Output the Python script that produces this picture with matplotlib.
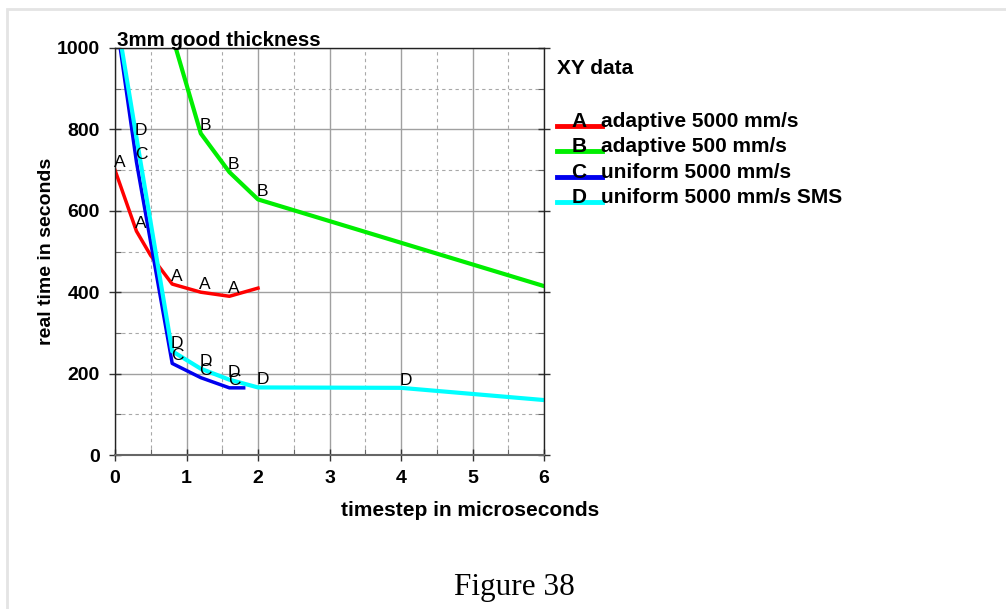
import matplotlib
matplotlib.use("Agg")
import matplotlib.pyplot as plt
from matplotlib.lines import Line2D
from matplotlib.patches import Rectangle
from matplotlib.ticker import MultipleLocator

plt.rcParams['font.family'] = ['Liberation Sans', 'DejaVu Sans']

# series data (timestep in microseconds, real time in seconds)
a_x = [0.0, 0.3, 0.5, 0.8, 1.2, 1.6, 2.0]
a_y = [700, 550, 490, 420, 400, 390, 410]
a_lab = [0, 1, 3, 4, 5]

b_x = [0.8, 1.2, 1.6, 2.0, 6.0]
b_y = [1030, 790, 695, 628, 415]
b_lab = [1, 2, 3]

c_x = [0.0, 0.3, 0.8, 1.2, 1.6, 1.8]
c_y = [1090, 720, 225, 190, 165, 165]
c_lab = [1, 2, 3, 4]

d_x = [0.0, 0.3, 0.8, 1.2, 1.6, 2.0, 4.0, 6.0]
d_y = [1100, 780, 255, 212, 185, 166, 165, 135]
d_lab = [1, 2, 3, 4, 5, 6]

series = [
    ("A", "adaptive 5000 mm/s", "#ff0000", a_x, a_y, a_lab),
    ("B", "adaptive 500 mm/s", "#00ee00", b_x, b_y, b_lab),
    ("C", "uniform 5000 mm/s", "#0000ee", c_x, c_y, c_lab),
    ("D", "uniform 5000 mm/s SMS", "#00ffff", d_x, d_y, d_lab),
]

fig = plt.figure(figsize=(10.06, 6.09), dpi=100)
fig.patches.append(Rectangle((7 / 1006, -0.1), 1.2, 1 - 9 / 609 + 0.1,
                             transform=fig.transFigure, fill=False,
                             edgecolor="#e4e4e4", linewidth=2))

ax = fig.add_axes([115 / 1006, 1 - 455 / 609, (544 - 115) / 1006, (455 - 48) / 609])
ax.set_xlim(0, 6)
ax.set_ylim(0, 1000)
ax.xaxis.set_major_locator(MultipleLocator(1))
ax.xaxis.set_minor_locator(MultipleLocator(0.5))
ax.yaxis.set_major_locator(MultipleLocator(200))
ax.yaxis.set_minor_locator(MultipleLocator(100))
ax.grid(which="major", color="#a0a0a0", linewidth=1.0, linestyle="-")
ax.grid(which="minor", color="#a8a8a8", linewidth=0.8, linestyle=(0, (3, 3)))
ax.set_axisbelow(True)

for s in ax.spines.values():
    s.set_color("#222222")
    s.set_linewidth(1.0)
ax.spines["bottom"].set_color("#666666")
ax.spines["bottom"].set_linewidth(1.5)

ax.tick_params(which="major", direction="inout", length=8, width=1.0,
               color="#333333", top=False, right=True, labelsize=14)
ax.tick_params(which="minor", direction="in", length=4, width=0.8,
               color="#666666", right=True)
for lbl in ax.get_xticklabels() + ax.get_yticklabels():
    lbl.set_fontweight("bold")
ax.tick_params(axis="x", pad=7)
ax.tick_params(axis="y", pad=7)

for letter, name, col, xs, ys, labs in series:
    lw = 3.0 if letter in ("B", "D") else 2.5
    ax.plot(xs, ys, color=col, linewidth=lw, solid_joinstyle="round", clip_on=True)
    for i in labs:
        ax.annotate(letter, (xs[i], ys[i]), xytext=(-1, 0), textcoords="offset points",
                    ha="left", va="bottom", fontsize=12.5, color="black")

ax.set_ylabel("real time in seconds", fontsize=14, fontweight="bold")
ax.yaxis.set_label_coords((55 - 115) / (544 - 115), 0.5)
fig.text(470 / 1006, 1 - 511 / 609, "timestep in microseconds", ha="center", va="center",
         fontsize=15, fontweight="bold")
fig.text(117 / 1006, 1 - 41 / 609, "3mm good thickness", ha="left", va="center",
         fontsize=14.8, fontweight="bold")

# legend
fig.text(557 / 1006, 1 - 68 / 609, "XY data", ha="left", va="center",
         fontsize=15, fontweight="bold")
for k, (letter, name, col, xs, ys, labs) in enumerate(series):
    yy = 1 - (126 + 25.3 * k) / 609
    fig.add_artist(Line2D([557 / 1006, 602 / 1006], [yy, yy], color=col, linewidth=3.5,
                          transform=fig.transFigure))
    fig.text(579 / 1006, yy - 1 / 609, letter, ha="center", va="baseline",
             fontsize=15, fontweight="bold")
    fig.text(601 / 1006, yy - 1 / 609, name, ha="left", va="baseline",
             fontsize=15, fontweight="bold")

fig.text(514 / 1006, 1 - 587 / 609, "Figure 38", ha="center", va="center",
         fontsize=22.5, family=["Liberation Serif", "DejaVu Serif"])

fig.savefig("out.png", dpi=100)
